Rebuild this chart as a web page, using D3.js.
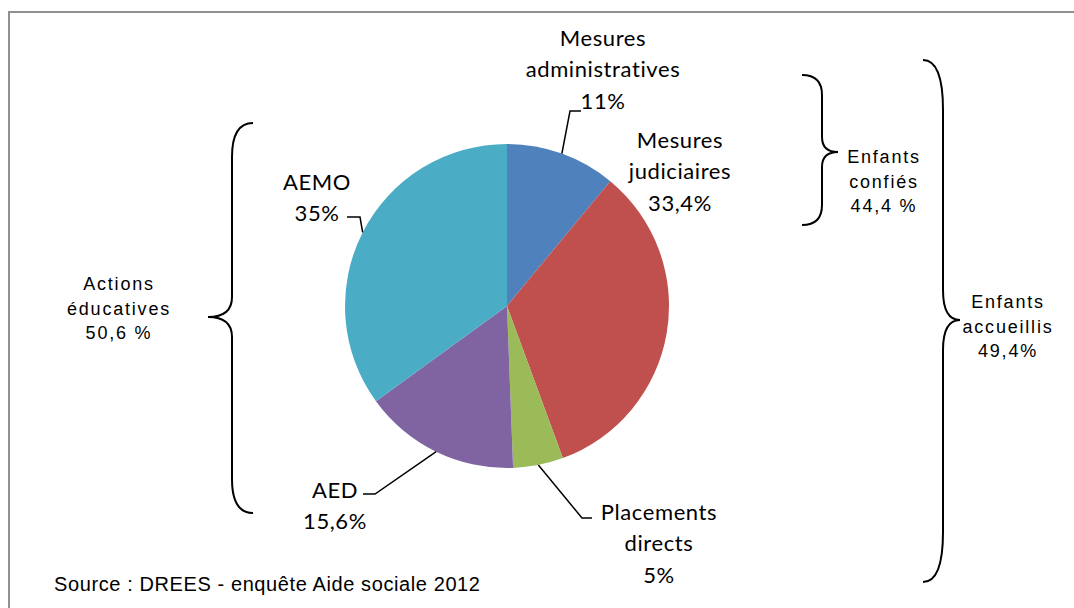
<!DOCTYPE html>
<html>
<head>
<meta charset="utf-8">
<script src="https://cdn.jsdelivr.net/npm/d3@7/dist/d3.min.js"></script>
<style>
  body { margin: 0; background: #fff; }
  svg text { fill: #000; }
</style>
</head>
<body>
<div id="chart"></div>
<script>
// data
const categories = ['Mesures administratives', 'Mesures judiciaires', 'Placements directs', 'AED', 'AEMO'];
const values     = [11, 33.4, 5, 15.6, 35];
const nameLines  = [['Mesures', 'administratives'], ['Mesures', 'judiciaires'], ['Placements', 'directs'], ['AED'], ['AEMO']];
const colors     = ['#4F81BD', '#C0504D', '#9BBB59', '#8064A2', '#4BACC6'];
const groupNames = [['Actions', 'éducatives'], ['Enfants', 'confiés'], ['Enfants', 'accueillis']];
const groupPct   = ['50,6 %', '44,4 %', '49,4%'];
const source     = 'Source : DREES - enquête Aide sociale 2012';

const W = 1074, H = 608;
const cx = 507, cy = 306, R = 162;

// label layout, relative to pie centre (text block first line, leader elbow)
const labelLayout = [
  {tx: 96,   ty: -268, elbow: [63, -195],  end: [74, -195]},
  {tx: 173,  ty: -166, elbow: null},
  {tx: 152,  ty: 206,  elbow: [75, 212],   end: [85, 212]},
  {tx: -172, ty: 184,  elbow: [-132, 188], end: [-144, 188]},
  {tx: -190, ty: -124, elbow: [-147, -89], end: [-160, -89]}
];
// braces: tip x, spine x, point x, top, middle, bottom, end radius, middle radius, text x, text y
const braceLayout = [
  {xt: 253, xv: 232, xp: 208, y0: 123, ym: 317, y1: 513, re: 34, rm: 20, tx: 119, ty: 284},
  {xt: 802, xv: 822, xp: 838, y0: 75,  ym: 152, y1: 225, re: 20, rm: 15, tx: 884, ty: 157},
  {xt: 923, xv: 943, xp: 960, y0: 60,  ym: 320, y1: 582, re: 50, rm: 30, tx: 1008, ty: 302}
];

const fmt = v => String(v).replace('.', ',') + '%';

const svg = d3.select('#chart').append('svg')
  .attr('width', W).attr('height', H);

svg.append('rect')
  .attr('x', 9).attr('y', 12)
  .attr('width', W + 20).attr('height', H + 20)
  .attr('fill', '#fff')
  .attr('stroke', '#909090')
  .attr('stroke-width', 2);

const pie = d3.pie().sort(null).value(d => d)(values);
const arc = d3.arc().innerRadius(0).outerRadius(R);

const g = svg.append('g').attr('transform', `translate(${cx},${cy})`);

g.selectAll('path.slice')
  .data(pie)
  .join('path')
  .attr('class', 'slice')
  .attr('d', arc)
  .attr('fill', (d, i) => colors[i]);

// leader lines from slice mid-angle on the rim
pie.forEach((d, i) => {
  const L = labelLayout[i];
  if (!L.elbow) return;
  const a = (d.startAngle + d.endAngle) / 2;
  const p0 = [R * Math.sin(a), -R * Math.cos(a)];
  g.append('path')
    .attr('d', d3.line()([p0, L.elbow, L.end]))
    .attr('fill', 'none')
    .attr('stroke', '#000')
    .attr('stroke-width', 1.5);
});

const lineH = 31.5;
pie.forEach((d, i) => {
  const L = labelLayout[i];
  const lines = nameLines[i].concat([fmt(values[i])]);
  const t = g.append('text')
    .attr('text-anchor', 'middle')
    .style('font-family', 'Lato, "Open Sans", sans-serif')
    .style('font-size', '22px')
    .style('letter-spacing', '0.6px');
  lines.forEach((s, k) => {
    t.append('tspan')
      .attr('x', L.tx)
      .attr('y', L.ty + k * lineH)
      .attr('dy', '0.35em')
      .text(s);
  });
});

// curly braces
function bracePath(b) {
  const p = d3.path();
  p.moveTo(b.xt, b.y0);
  p.quadraticCurveTo(b.xv, b.y0, b.xv, b.y0 + b.re);
  p.lineTo(b.xv, b.ym - b.rm);
  p.quadraticCurveTo(b.xv, b.ym, b.xp, b.ym);
  p.quadraticCurveTo(b.xv, b.ym, b.xv, b.ym + b.rm);
  p.lineTo(b.xv, b.y1 - b.re);
  p.quadraticCurveTo(b.xv, b.y1, b.xt, b.y1);
  return p.toString();
}

braceLayout.forEach((b, i) => {
  svg.append('path')
    .attr('d', bracePath(b))
    .attr('fill', 'none')
    .attr('stroke', '#000')
    .attr('stroke-width', 2);
  const lines = groupNames[i].concat([groupPct[i]]);
  const t = svg.append('text')
    .attr('text-anchor', 'middle')
    .style('font-family', '"Liberation Sans", Arial, sans-serif')
    .style('font-size', '18px')
    .style('letter-spacing', '1.8px');
  lines.forEach((s, k) => {
    t.append('tspan')
      .attr('x', b.tx)
      .attr('y', b.ty + k * 24.5)
      .attr('dy', '0.35em')
      .text(s);
  });
});

svg.append('text')
  .attr('x', 54).attr('y', 591)
  .style('font-family', '"Liberation Sans", Arial, sans-serif')
  .style('font-size', '20px')
  .style('letter-spacing', '0.6px')
  .text(source);
</script>
</body>
</html>
